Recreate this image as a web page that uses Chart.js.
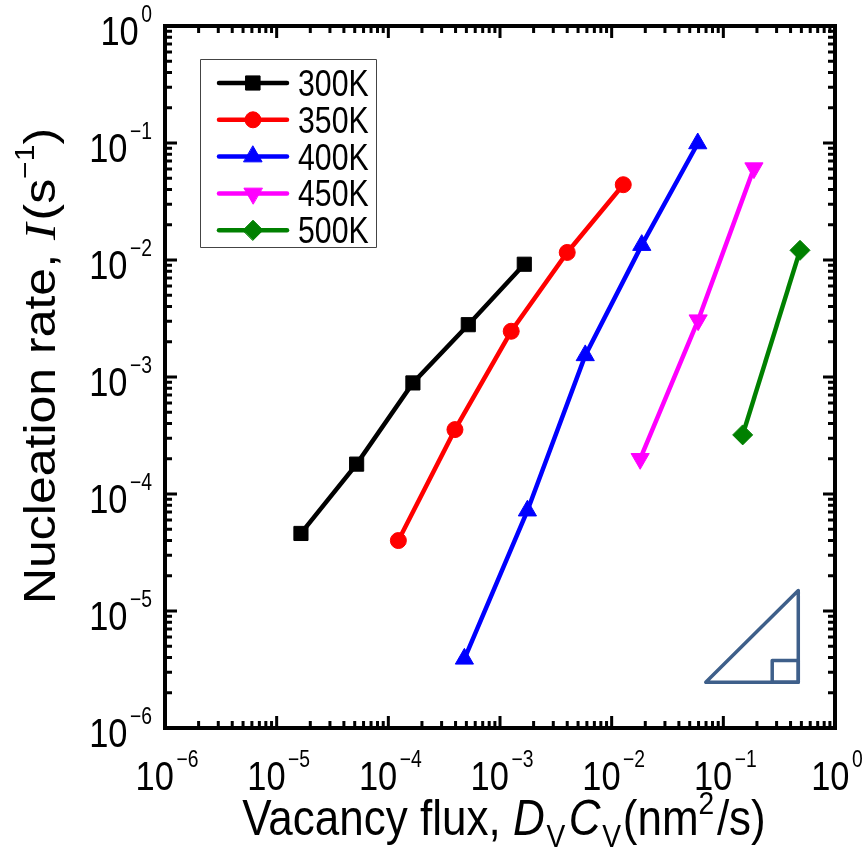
<!DOCTYPE html>
<html>
<head>
<meta charset="utf-8">
<script src="https://cdn.jsdelivr.net/npm/chart.js@4.4.1/dist/chart.umd.min.js"></script>
<style>
  html, body { margin: 0; padding: 0; background: #fff; }
  #wrap { width: 866px; height: 856px; }
</style>
</head>
<body>
<div id="wrap"><canvas id="chart"></canvas></div>
<script>
// data (vacancy flux in nm^2/s, nucleation rate in 1/s)
const temps = ["300K", "350K", "400K", "450K", "500K"]
const colors = ["#000000", "#ff0000", "#0000ff", "#ff00ff", "#008000"]
const markers = ["rect", "circle", "triangle", "triangle", "rectRot"]
const markerRot = [0, 0, 0, 180, 0]
const markerSize = [10, 8, 10.5, 10.5, 10]

const flux300 = [1.65e-5, 5.2e-5, 1.66e-4, 5.2e-4, 1.65e-3]
const rate300 = [4.6e-5, 1.8e-4, 8.9e-4, 2.8e-3, 9.2e-3]
const flux350 = [1.23e-4, 3.95e-4, 1.26e-3, 4.0e-3, 1.27e-2]
const rate350 = [4.0e-5, 3.55e-4, 2.46e-3, 1.16e-2, 4.4e-2]
const flux400 = [4.8e-4, 1.76e-3, 5.8e-3, 1.86e-2, 5.9e-2]
const rate400 = [3.9e-6, 7.2e-5, 1.53e-3, 1.34e-2, 9.9e-2]
const flux450 = [1.8e-2, 5.95e-2, 0.188]
const rate450 = [2.0e-4, 3.06e-3, 6.1e-2]
const flux500 = [0.149, 0.486]
const rate500 = [3.2e-4, 1.21e-2]

const xTickExp = [-6, -5, -4, -3, -2, -1, 0]
const yTickExp = [-6, -5, -4, -3, -2, -1, 0]

// slope triangle drawn in the lower right corner (data coordinates)
const triX = [0.0696, 0.274, 0.469]
const triY = [2.46e-6, 3.77e-6, 1.5e-5]

const SANS = "'Liberation Sans', Arial, sans-serif"

const allFlux = [flux300, flux350, flux400, flux450, flux500]
const allRate = [rate300, rate350, rate400, rate450, rate500]

function toPoints(xs, ys) {
  return xs.map((x, i) => ({ x: x, y: ys[i] }))
}

// draws a run of text pieces [text, font, dy, extraGap]; sq squeezes glyphs horizontally
function richText(ctx, parts, x, y, align, sq, vertical) {
  ctx.save()
  ctx.translate(x, y)
  ctx.scale(sq, 1)
  if (vertical) ctx.rotate(-Math.PI / 2)
  ctx.textAlign = "left"
  ctx.textBaseline = "alphabetic"
  let w = 0
  parts.forEach(p => { ctx.font = p[1]; w += ctx.measureText(p[0]).width + (p[3] || 0) })
  let cx = align === "center" ? -w / 2 : align === "right" ? -w : 0
  parts.forEach(p => {
    ctx.font = p[1]
    ctx.fillText(p[0], cx, p[2] || 0)
    cx += ctx.measureText(p[0]).width + (p[3] || 0)
  })
  ctx.restore()
}

function marker(ctx, style, x, y, r, rot, color) {
  ctx.save()
  ctx.fillStyle = color
  ctx.strokeStyle = color
  ctx.lineWidth = 1
  Chart.helpers.drawPoint(ctx, { pointStyle: style, rotation: rot, radius: r, borderWidth: 1 }, x, y)
  ctx.restore()
}

const framePlugin = {
  id: "frame",
  afterDraw(chart) {
    const ctx = chart.ctx
    const a = chart.chartArea
    const xs = chart.scales.x
    const ys = chart.scales.y
    ctx.save()
    ctx.strokeStyle = "#000"
    ctx.lineCap = "butt"

    // ticks, all four sides, pointing inwards
    ctx.lineWidth = 3
    for (let d = -6; d <= 0; d++) {
      for (let m = 1; m <= 9; m++) {
        if (d === 0 && m > 1) break
        const v = m * Math.pow(10, d)
        const len = m === 1 ? 12 : 7
        const px = xs.getPixelForValue(v)
        const py = ys.getPixelForValue(v)
        ctx.beginPath()
        ctx.moveTo(px, a.bottom); ctx.lineTo(px, a.bottom - len)
        ctx.moveTo(px, a.top); ctx.lineTo(px, a.top + len)
        ctx.moveTo(a.left, py); ctx.lineTo(a.left + len, py)
        ctx.moveTo(a.right, py); ctx.lineTo(a.right - len, py)
        ctx.stroke()
      }
    }
    ctx.lineWidth = 4
    ctx.strokeRect(a.left, a.top, a.right - a.left, a.bottom - a.top)

    // tick labels
    ctx.fillStyle = "#000"
    const big = "41px " + SANS
    const sup = "23px " + SANS
    xTickExp.forEach(e => {
      const px = xs.getPixelForValue(Math.pow(10, e))
      const s = e < 0 ? "\u2212" + (-e) : String(e)
      richText(ctx, [["10", big, 0, 3], [s, sup, -23]], px + 2, a.bottom + 62, "center", 0.84)
    })
    yTickExp.forEach(e => {
      const py = ys.getPixelForValue(Math.pow(10, e))
      const s = e < 0 ? "\u2212" + (-e) : String(e)
      richText(ctx, [["10", big, 0, 3], [s, sup, -23]], a.left - 13, py + 19, "right", 0.84)
    })

    // axis titles
    const t = "50px " + SANS
    const ti = "italic 50px " + SANS
    const ts = "32px " + SANS
    richText(ctx, [
      ["Vacancy flux, ", t], ["D", ti, 0, 2], ["V", ts, 12, 4], ["C", ti, 0, 2], ["V", ts, 12, 2],
      ["(nm", t], ["2", ts, -21, 3], ["/s)", t]
    ], (a.left + a.right) / 2 + 4, 835, "center", 0.88)
    richText(ctx, [
      ["Nucleation rate, ", "50px " + SANS], ["I", "italic 50px 'Liberation Serif', serif", 0, 3],
      ["(s", "50px " + SANS], ["\u22121", "30px " + SANS, -23], [")", "50px " + SANS]
    ], 55, 366, "center", 0.9, true)

    // slope triangle
    const p0 = [xs.getPixelForValue(triX[0]), ys.getPixelForValue(triY[0])]
    const p1 = [xs.getPixelForValue(triX[2]), ys.getPixelForValue(triY[2])]
    const qx = xs.getPixelForValue(triX[1])
    const qy = ys.getPixelForValue(triY[1])
    ctx.strokeStyle = "#3e5f8a"
    ctx.lineWidth = 3.5
    ctx.lineJoin = "round"
    ctx.beginPath()
    ctx.moveTo(p0[0], p0[1]); ctx.lineTo(p1[0], p0[1]); ctx.lineTo(p1[0], p1[1]); ctx.closePath()
    ctx.stroke()
    ctx.strokeRect(qx, qy, p1[0] - qx, p0[1] - qy)

    // legend
    const lx = 200, ly = 59, lw = 176, lh = 188
    ctx.fillStyle = "#fff"
    ctx.fillRect(lx, ly, lw, lh)
    ctx.strokeStyle = "#444"
    ctx.lineWidth = 1
    ctx.strokeRect(lx + 0.5, ly + 0.5, lw, lh)
    chart.data.datasets.forEach((ds, i) => {
      const ry = 83 + i * 36.8
      ctx.strokeStyle = ds.borderColor
      ctx.lineWidth = 4.5
      ctx.lineCap = "round"
      ctx.beginPath()
      ctx.moveTo(219, ry); ctx.lineTo(287, ry)
      ctx.stroke()
      marker(ctx, ds.pointStyle, 253, ry, ds.pointRadius, ds.pointRotation, ds.borderColor)
      ctx.fillStyle = "#000"
      richText(ctx, [[ds.label, "36px " + SANS]], 298, ry + 13, "left", 0.84)
    })
    ctx.restore()
  }
}

const datasets = temps.map((name, i) => ({
  label: name,
  data: toPoints(allFlux[i], allRate[i]),
  borderColor: colors[i],
  backgroundColor: colors[i],
  pointBackgroundColor: colors[i],
  pointBorderColor: colors[i],
  borderWidth: 4.5,
  pointStyle: markers[i],
  pointRotation: markerRot[i],
  pointRadius: markerSize[i],
  pointBorderWidth: 1,
  tension: 0,
  clip: false,
}))

new Chart(document.getElementById("chart"), {
  type: "line",
  data: { datasets },
  options: {
    responsive: true,
    maintainAspectRatio: false,
    animation: false,
    layout: { padding: { left: 165, right: 31, top: 26, bottom: 128 } },
    plugins: {
      legend: { display: false },
      tooltip: { enabled: false },
    },
    scales: {
      x: { type: "logarithmic", min: 1e-6, max: 1, display: false },
      y: { type: "logarithmic", min: 1e-6, max: 1, display: false },
    },
  },
  plugins: [framePlugin],
})
</script>
</body>
</html>
